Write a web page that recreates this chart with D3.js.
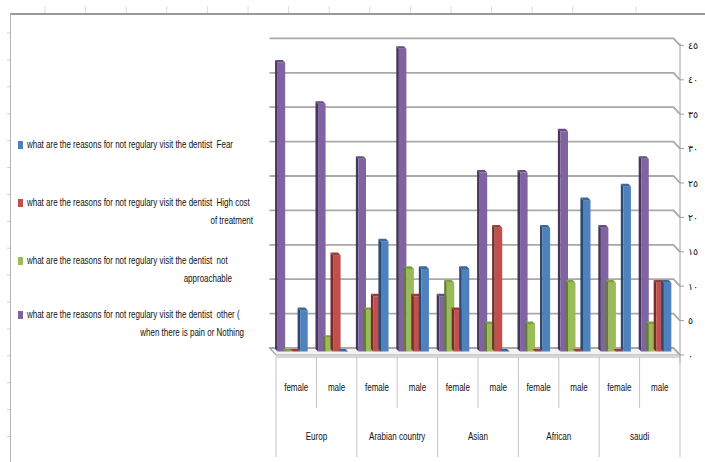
<!DOCTYPE html>
<html>
<head>
<meta charset="utf-8">
<script src="https://cdn.jsdelivr.net/npm/d3@7"></script>
<style>
  html, body { margin: 0; padding: 0; background: #fff; }
  svg { display: block; }
  text { font-family: "Liberation Sans", Arial, sans-serif; fill: #111; white-space: pre; }
</style>
</head>
<body>
<svg id="chart" width="705" height="462"></svg>
<script>
// ---- data -------------------------------------------------------------
const regions = ["Europ", "Arabian country", "Asian", "African", "saudi"];
const genders = ["female", "male"];

// one value per region/gender column, left to right
const fear            = [6, 0, 16, 12, 12, 0, 18, 22, 24, 10];
const highCost        = [0, 14, 8, 8, 6, 18, 0, 0, 0, 10];
const notApproachable = [0, 2, 6, 12, 10, 4, 4, 10, 10, 4];
const other           = [42, 36, 28, 44, 8, 26, 26, 32, 18, 28];

const valueTicks      = [0, 5, 10, 15, 20, 25, 30, 35, 40, 45];
const valueTickLabels = ["٠", "٥", "١٠", "١٥", "٢٠", "٢٥", "٣٠", "٣٥", "٤٠", "٤٥"];

const seriesNames = ["fear", "highCost", "notApproachable", "other"];
const legendLines = [
  ["what are the reasons for not regulary visit the dentist  Fear"],
  ["what are the reasons for not regulary visit the dentist  High cost", "of treatment"],
  ["what are the reasons for not regulary visit the dentist  not", "approachable"],
  ["what are the reasons for not regulary visit the dentist  other (", "when there is pain or Nothing"]
];

// ---- styles -----------------------------------------------------------
const seriesValues = { fear, highCost, notApproachable, other };
const palette = {
  fear:            { face: "#4f81bd", side: "#2a4a73", top: "#3b679b" },
  highCost:        { face: "#c0504d", side: "#782b29", top: "#9e3c39" },
  notApproachable: { face: "#9bbb59", side: "#627d2e", top: "#809f43" },
  other:           { face: "#8064a2", side: "#46365e", top: "#634c84" }
};
// columns are drawn right-to-left relative to the legend order
const barOrder = seriesNames.slice().reverse();

const svg = d3.select("#chart");

// helper: horizontally condensed text
function condensed(parent, x, y, str, anchor, size, sx) {
  return parent.append("text")
    .attr("transform", `translate(${x},${y}) scale(${sx},1)`)
    .attr("text-anchor", anchor)
    .style("font-size", size + "px")
    .text(str);
}

// ---- worksheet frame behind the chart -----------------------------------
const frame = svg.append("g");
frame.append("line").attr("x1", 10).attr("x2", 705).attr("y1", 14).attr("y2", 14)
  .attr("stroke", "#9a9a9a").attr("stroke-width", 2);
frame.append("line").attr("x1", 10.5).attr("x2", 10.5).attr("y1", 14).attr("y2", 462)
  .attr("stroke", "#b4b4b4").attr("stroke-width", 1);
const colEdges = d3.range(14).map(k => 45 + 40.6 * k).concat([636]);
frame.selectAll(".ct").data(colEdges).join("line")
  .attr("x1", d => d).attr("x2", d => d).attr("y1", 6).attr("y2", 13)
  .attr("stroke", "#dcdcdc");
const rowEdges = d3.range(16).map(k => 33 + 26.9 * k);
frame.selectAll(".rt").data(rowEdges).join("line")
  .attr("x1", 7).attr("x2", 10).attr("y1", d => d).attr("y2", d => d)
  .attr("stroke", "#cfcfcf");

// ---- scales -----------------------------------------------------------
const columns = regions.flatMap(r => genders.map(g => r + "|" + g));
const x = d3.scaleBand().domain(columns).range([276, 680]).padding(0);
const y = d3.scaleLinear().domain([0, 45]).range([355, 45.4]);
const x1 = d3.scaleBand().domain(barOrder).range([0, x.bandwidth()])
  .paddingInner(0).paddingOuter(0.69);

const back = { dx: -6.5, dy: -7 };    // back wall offset
const mid  = { dx: -3.5, dy: -3.5 };  // depth of the column row
const d = 2.6;                        // column thickness

const plot = svg.append("g");

// floor
const x0f = x.range()[0], x1f = x.range()[1], y0 = y(0);
plot.append("path")
  .attr("d", `M${x0f + back.dx},${y0 + back.dy} L${x1f + back.dx},${y0 + back.dy} L${x1f},${y0} L${x0f},${y0} Z`)
  .attr("fill", "#f3f3f3").attr("stroke", "#a8a8a8").attr("stroke-width", 1.2);

// back wall gridlines bending to the front value axis
plot.selectAll(".grid").data(valueTicks).join("path")
  .attr("d", v => `M${x0f + back.dx},${y(v) + back.dy} H${x1f + back.dx} L${x1f},${y(v)}`)
  .attr("fill", "none").attr("stroke", "#a9a9a9").attr("stroke-width", 1.8);

// value axis on the right
const axisG = svg.append("g").attr("transform", `translate(${x1f},0)`);
axisG.append("line").attr("x1", 0).attr("x2", 0).attr("y1", y(45) - 2).attr("y2", y(0) + 8)
  .attr("stroke", "#a0a0a0");
axisG.selectAll(".tk").data(valueTicks).join("line")
  .attr("x1", 0).attr("x2", 4).attr("y1", v => y(v)).attr("y2", v => y(v))
  .attr("stroke", "#a0a0a0");
axisG.selectAll(".tl").data(valueTicks).join("text")
  .attr("x", 8).attr("y", v => y(v) + 3.5)
  .style("font-family", "'DejaVu Sans', sans-serif")
  .style("font-size", "9.5px")
  .text((v, i) => valueTickLabels[i]);

// columns
const bars = plot.append("g");
columns.forEach((col, i) => {
  barOrder.forEach(s => {
    const v = seriesValues[s][i];
    const c = palette[s];
    const bx = x(col) + x1(s) + mid.dx;
    const w = x1.bandwidth();
    const yt = y(v) + mid.dy;
    const yb = y(0) + mid.dy;
    const g = bars.append("g");
    g.append("path")
      .attr("d", `M${bx},${yt} L${bx - d},${yt - d} L${bx - d},${yb - d} L${bx},${yb} Z`)
      .attr("fill", c.side);
    g.append("rect").attr("x", bx).attr("y", yt).attr("width", w).attr("height", Math.max(0, yb - yt))
      .attr("fill", c.face);
    g.append("path")
      .attr("d", `M${bx},${yt} L${bx + w},${yt} L${bx + w - d},${yt - d} L${bx - d},${yt - d} Z`)
      .attr("fill", c.top);
  });
});

// ---- category axis (two levels) -----------------------------------------
const cat = svg.append("g");
const axisY = y0 + 2;
cat.append("line").attr("x1", x0f).attr("x2", x1f).attr("y1", axisY).attr("y2", axisY)
  .attr("stroke", "#b0b0b0");
const edges = columns.map(c => x(c)).concat([x1f]);
cat.selectAll(".div").data(edges).join("line")
  .attr("x1", e => e).attr("x2", e => e)
  .attr("y1", axisY)
  .attr("y2", (e, i) => (i % 2 === 0 ? 457 : 408))
  .attr("stroke", "#c4c4c4");
columns.forEach(c => {
  condensed(cat, x(c) + x.bandwidth() / 2, 391, c.split("|")[1], "middle", 11.5, 0.7);
});
regions.forEach(r => {
  const cx = x(r + "|" + genders[0]);
  condensed(cat, cx + x.bandwidth(), 440, r, "middle", 11.5, 0.7);
});

// ---- legend -----------------------------------------------------------
const legend = svg.append("g");
const legendRows = [148, 206, 264, 318];
const wrapRight = [null, 253, 232, 244];
seriesNames.forEach((s, i) => {
  const ly = legendRows[i];
  legend.append("rect").attr("x", 18).attr("y", ly - 7).attr("width", 5).attr("height", 8)
    .attr("fill", palette[s].face);
  condensed(legend, 27, ly, legendLines[i][0], "start", 10.5, 0.76);
  if (legendLines[i][1]) {
    condensed(legend, wrapRight[i], ly + 18, legendLines[i][1], "end", 10.5, 0.76);
  }
});
</script>
</body>
</html>
